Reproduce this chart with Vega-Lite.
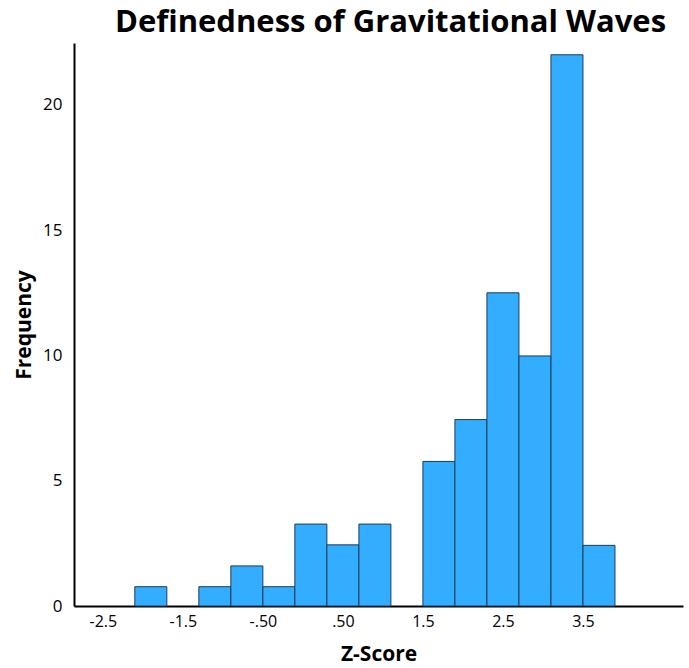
{
  "$schema": "https://vega.github.io/schema/vega-lite/v6.json",
  "width": 609,
  "height": 563,
  "autosize": {"type": "none"},
  "padding": {"left": 74, "top": 43, "right": 6, "bottom": 62},
  "background": "white",
  "title": {
    "text": "Definedness of Gravitational Waves",
    "font": "Open Sans",
    "fontSize": 31,
    "fontWeight": "bold",
    "color": "black",
    "anchor": "middle",
    "dx": 12,
    "offset": 4
  },
  "data": {
    "values": [
      {"bin_start": -2.1, "bin_end": -1.7, "frequency": 0.77},
      {"bin_start": -1.3, "bin_end": -0.9, "frequency": 0.77},
      {"bin_start": -0.9, "bin_end": -0.5, "frequency": 1.6},
      {"bin_start": -0.5, "bin_end": -0.1, "frequency": 0.77},
      {"bin_start": -0.1, "bin_end": 0.3, "frequency": 3.27},
      {"bin_start": 0.3, "bin_end": 0.7, "frequency": 2.44},
      {"bin_start": 0.7, "bin_end": 1.1, "frequency": 3.27},
      {"bin_start": 1.5, "bin_end": 1.9, "frequency": 5.77},
      {"bin_start": 1.9, "bin_end": 2.3, "frequency": 7.44},
      {"bin_start": 2.3, "bin_end": 2.7, "frequency": 12.5},
      {"bin_start": 2.7, "bin_end": 3.1, "frequency": 9.98},
      {"bin_start": 3.1, "bin_end": 3.5, "frequency": 22.0},
      {"bin_start": 3.5, "bin_end": 3.9, "frequency": 2.42}
    ]
  },
  "mark": {"type": "bar", "fill": "#33adff", "stroke": "#1f3b57", "strokeWidth": 1},
  "encoding": {
    "x": {
      "field": "bin_start",
      "type": "quantitative",
      "scale": {"domain": [-2.86, 4.75], "nice": false, "zero": false},
      "axis": {
        "values": [-2.5, -1.5, -0.5, 0.5, 1.5, 2.5, 3.5],
        "labelExpr": "datum.value == -2.5 ? '-2.5' : datum.value == -1.5 ? '-1.5' : datum.value == -0.5 ? '-.50' : datum.value == 0.5 ? '.50' : datum.value == 1.5 ? '1.5' : datum.value == 2.5 ? '2.5' : '3.5'",
        "ticks": false,
        "grid": false,
        "domainColor": "black",
        "domainWidth": 2,
        "labelFont": "Open Sans",
        "labelFontSize": 16,
        "labelColor": "black",
        "labelPadding": 7,
        "title": "Z-Score",
        "titleFont": "Open Sans",
        "titleFontSize": 21,
        "titleFontWeight": "bold",
        "titleColor": "black",
        "titlePadding": 14
      }
    },
    "x2": {"field": "bin_end"},
    "y": {
      "field": "frequency",
      "type": "quantitative",
      "scale": {"domain": [0, 22.47], "nice": false},
      "axis": {
        "values": [0, 5, 10, 15, 20],
        "ticks": false,
        "grid": false,
        "domainColor": "black",
        "domainWidth": 2,
        "labelFont": "Open Sans",
        "labelFontSize": 17,
        "labelColor": "black",
        "labelPadding": 12,
        "title": "Frequency",
        "titleFont": "Open Sans",
        "titleFontSize": 21,
        "titleFontWeight": "bold",
        "titleColor": "black",
        "titlePadding": 8
      }
    },
    "y2": {"datum": 0}
  },
  "config": {"view": {"stroke": null}}
}
